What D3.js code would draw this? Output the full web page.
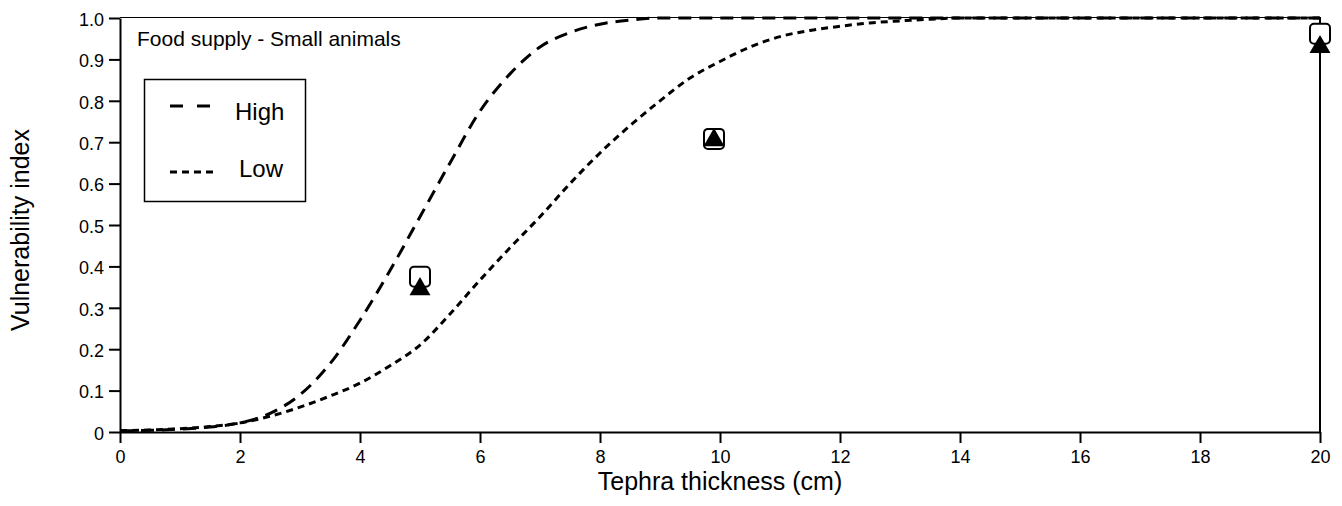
<!DOCTYPE html>
<html>
<head>
<meta charset="utf-8">
<script src="https://cdn.jsdelivr.net/npm/d3@7"></script>
<style>
  body { margin: 0; background: #fff; }
  text { font-family: "Liberation Sans", Arial, sans-serif; fill: #000; }
</style>
</head>
<body>
<script>
// Curve data (tephra thickness in cm -> vulnerability index)
var curveX = [0, 0.5, 1, 1.5, 2, 2.5, 3, 3.5, 4, 4.5, 5, 5.5, 6, 6.5, 7, 7.5, 8, 8.5, 9, 9.5,
              10, 10.5, 11, 11.5, 12, 12.5, 13, 13.5, 14, 16, 18, 20];
var highY = [0.003, 0.004, 0.007, 0.012, 0.022, 0.045, 0.09, 0.165, 0.27, 0.39, 0.52, 0.65, 0.775, 0.865, 0.93, 0.965, 0.985, 0.995, 1.0, 1.0,
             1.0, 1.0, 1.0, 1.0, 1.0, 1.0, 1.0, 1.0, 1.0, 1.0, 1.0, 1.0];
var lowY = [0.003, 0.005, 0.008, 0.013, 0.022, 0.038, 0.06, 0.087, 0.118, 0.16, 0.21, 0.285, 0.367, 0.445, 0.52, 0.6, 0.674, 0.74, 0.8, 0.855,
            0.895, 0.93, 0.955, 0.97, 0.98, 0.988, 0.993, 0.997, 1.0, 1.0, 1.0, 1.0];

// observed points
var obsX = [5, 9.9, 20];
var squareY = [0.375, 0.708, 0.962];
var triangleY = [0.345, 0.705, 0.93];

var xTicks = [0, 2, 4, 6, 8, 10, 12, 14, 16, 18, 20];
var yTicks = [0, 0.1, 0.2, 0.3, 0.4, 0.5, 0.6, 0.7, 0.8, 0.9, 1.0];

var width = 1342, height = 506;
// note: "top" is taken by window.top, so use plot* names
var plotL = 120, plotR = 1320, plotT = 18, plotB = 432;

var svg = d3.select("body").append("svg")
    .attr("width", width)
    .attr("height", height);

var x = d3.scaleLinear().domain([0, 20]).range([plotL, plotR]);
var y = d3.scaleLinear().domain([0, 1]).range([plotB, plotT]);

// frame top + right
svg.append("line")
    .attr("x1", plotL).attr("x2", plotR)
    .attr("y1", plotT - 0.5).attr("y2", plotT - 0.5)
    .attr("stroke", "#000").attr("stroke-width", 1);
svg.append("line")
    .attr("x1", plotR).attr("x2", plotR)
    .attr("y1", plotT - 1).attr("y2", plotB)
    .attr("stroke", "#000").attr("stroke-width", 2);

// axes
var xAxis = svg.append("g")
    .attr("transform", "translate(0," + plotB + ")")
    .call(d3.axisBottom(x).tickValues(xTicks).tickSize(11).tickSizeOuter(0).tickFormat(d3.format("d")));
var yAxis = svg.append("g")
    .attr("transform", "translate(" + plotL + ",0)")
    .call(d3.axisLeft(y).tickValues(yTicks).tickSize(11).tickSizeOuter(0)
        .tickFormat(function(d) { return d === 0 ? "0" : d3.format(".1f")(d); }));

[xAxis, yAxis].forEach(function(a) {
    a.select(".domain").attr("stroke", "#000").attr("stroke-width", 2);
    a.selectAll(".tick line").attr("stroke", "#000").attr("stroke-width", 2);
    a.selectAll(".tick text").style("font-size", "18px").attr("fill", "#000");
});
xAxis.selectAll(".tick text").attr("y", 31).attr("dy", null);
yAxis.selectAll(".tick text").attr("x", -16).attr("dy", "0.4em");

// axis titles
svg.append("text")
    .attr("x", (plotL + plotR) / 2)
    .attr("y", 490)
    .attr("text-anchor", "middle")
    .style("font-size", "25px")
    .text("Tephra thickness (cm)");
svg.append("text")
    .attr("transform", "translate(29," + ((plotT + plotB) / 2 + 5) + ") rotate(-90)")
    .attr("text-anchor", "middle")
    .style("font-size", "25px")
    .text("Vulnerability index");

// curves
var line = d3.line()
    .x(function(d) { return x(d[0]); })
    .y(function(d) { return y(d[1]); })
    .curve(d3.curveMonotoneX);

svg.append("path")
    .datum(curveX.map(function(v, i) { return [v, lowY[i]]; }))
    .attr("d", line)
    .attr("fill", "none")
    .attr("stroke", "#000")
    .attr("stroke-width", 3)
    .attr("stroke-dasharray", "7,5");

svg.append("path")
    .datum(curveX.map(function(v, i) { return [v, highY[i]]; }))
    .attr("d", line)
    .attr("fill", "none")
    .attr("stroke", "#000")
    .attr("stroke-width", 3)
    .attr("stroke-dasharray", "13,8");

// observed squares (rounded) and triangles
svg.selectAll(".sq")
    .data(obsX)
    .enter().append("rect")
    .attr("class", "sq")
    .attr("x", function(d) { return x(d) - 10; })
    .attr("y", function(d, i) { return y(squareY[i]) - 10; })
    .attr("width", 20)
    .attr("height", 20)
    .attr("rx", 4)
    .attr("fill", "#fff")
    .attr("stroke", "#000")
    .attr("stroke-width", 2);

var tri = d3.symbol().type(d3.symbolTriangle).size(190);
svg.selectAll(".tri")
    .data(obsX)
    .enter().append("path")
    .attr("class", "tri")
    .attr("transform", function(d, i) { return "translate(" + x(d) + "," + y(triangleY[i]) + ")"; })
    .attr("d", tri)
    .attr("fill", "#000");

// title inside plot
svg.append("text")
    .attr("x", 137)
    .attr("y", 46)
    .style("font-size", "21px")
    .text("Food supply - Small animals");

// legend
var legend = svg.append("g");
legend.append("rect")
    .attr("x", 144.5).attr("y", 79.5)
    .attr("width", 161).attr("height", 122)
    .attr("fill", "#fff")
    .attr("stroke", "#000")
    .attr("stroke-width", 1.5);

var legendItems = [
    { label: "High", dash: "13,14", y: 106, len: 40, tx: 235, ty: 120 },
    { label: "Low", dash: "7,5", y: 172, len: 48, tx: 239, ty: 177 }
];
legendItems.forEach(function(d) {
    legend.append("line")
        .attr("x1", 170).attr("x2", 170 + d.len)
        .attr("y1", d.y).attr("y2", d.y)
        .attr("stroke", "#000")
        .attr("stroke-width", 3)
        .attr("stroke-dasharray", d.dash);
    legend.append("text")
        .attr("x", d.tx)
        .attr("y", d.ty)
        .style("font-size", "24px")
        .text(d.label);
});
</script>
</body>
</html>
